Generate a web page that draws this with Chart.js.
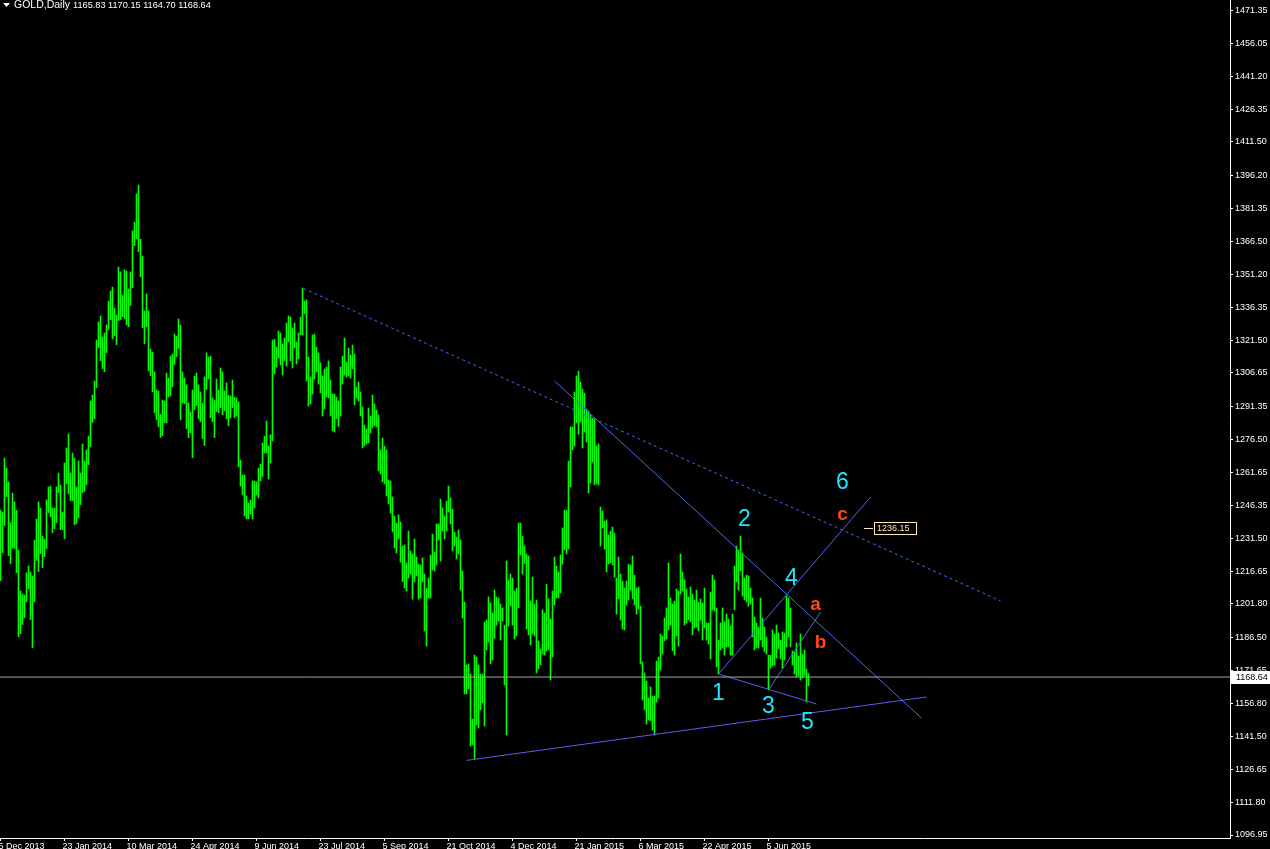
<!DOCTYPE html>
<html>
<head>
<meta charset="utf-8">
<script src="https://cdn.jsdelivr.net/npm/chart.js@4.4.0/dist/chart.umd.min.js"></script>
<style>
  html, body { margin: 0; padding: 0; background: #000; overflow: hidden; }
  #ChartGold { display: block; }
</style>
</head>
<body>
<canvas id="ChartGold" width="1270" height="849"></canvas>
<script>
// GOLD daily bars, high / low per bar (bar 0 = 5 Dec 2013)
const highs = [
  1244.4, 1243.5, 1268.0, 1263.5, 1257.1, 1238.7, 1252.1, 1248.1, 1244.4, 1226.3,
  1207.7, 1206.3, 1205.9, 1215.9, 1219.0, 1216.3, 1214.5, 1230.8, 1240.3, 1248.1,
  1245.3, 1232.6, 1231.3, 1249.0, 1254.9, 1255.3, 1245.3, 1245.3, 1254.9, 1261.2,
  1255.8, 1243.5, 1265.8, 1272.6, 1278.9, 1261.2, 1270.3, 1268.0, 1254.9, 1266.7,
  1261.2, 1274.4, 1266.7, 1271.7, 1278.0, 1293.9, 1296.6, 1303.0, 1321.6, 1329.8,
  1332.5, 1323.0, 1324.8, 1328.4, 1339.3, 1343.8, 1345.6, 1336.1, 1332.9, 1354.7,
  1352.5, 1342.0, 1353.4, 1352.9, 1344.7, 1352.5, 1371.1, 1375.1, 1387.9, 1391.9,
  1367.4, 1359.7, 1334.8, 1342.5, 1334.8, 1317.5, 1316.1, 1307.1, 1298.9, 1298.4,
  1288.0, 1294.4, 1293.9, 1306.6, 1304.3, 1314.3, 1315.2, 1324.3, 1323.4, 1331.1,
  1328.4, 1307.1, 1304.3, 1301.2, 1293.0, 1288.9, 1298.9, 1305.2, 1306.6, 1301.2,
  1298.0, 1293.0, 1304.8, 1315.7, 1313.9, 1314.3, 1295.3, 1294.4, 1303.9, 1298.9,
  1308.9, 1307.1, 1298.5, 1302.1, 1296.5, 1296.2, 1303.4, 1295.6, 1295.3, 1293.5,
  1267.1, 1260.3, 1260.3, 1250.8, 1247.6, 1249.0, 1257.6, 1257.6, 1257.2, 1263.5,
  1265.3, 1274.9, 1278.0, 1284.8, 1273.5, 1278.5, 1321.6, 1322.0, 1318.4, 1325.7,
  1324.8, 1319.8, 1322.5, 1329.3, 1332.5, 1332.0, 1327.0, 1329.3, 1320.7, 1324.8,
  1332.0, 1345.2, 1339.3, 1339.8, 1313.9, 1304.8, 1323.9, 1324.3, 1318.4, 1315.7,
  1311.2, 1305.3, 1308.4, 1309.3, 1312.1, 1303.4, 1297.1, 1297.1, 1295.7, 1293.9,
  1309.3, 1314.3, 1322.5, 1311.6, 1318.0, 1314.8, 1319.3, 1315.2, 1300.3, 1302.5,
  1298.0, 1291.2, 1283.0, 1281.2, 1290.7, 1287.1, 1296.6, 1292.6, 1289.8, 1287.6,
  1271.7, 1277.1, 1273.5, 1271.7, 1258.1, 1257.6, 1250.4, 1241.7, 1238.5, 1242.2,
  1239.0, 1228.1, 1228.6, 1220.4, 1234.9, 1225.8, 1224.5, 1231.3, 1223.1, 1219.9,
  1219.5, 1222.7, 1215.4, 1209.0, 1213.6, 1224.0, 1233.5, 1225.4, 1238.1, 1238.1,
  1249.4, 1245.4, 1241.7, 1248.5, 1255.3, 1249.9, 1244.9, 1234.4, 1232.2, 1235.4,
  1230.8, 1216.8, 1202.7, 1174.1, 1174.6, 1170.0, 1149.6, 1178.6, 1177.7, 1174.1,
  1170.0, 1170.0, 1193.6, 1194.5, 1205.0, 1202.3, 1197.7, 1208.1, 1205.0, 1204.5,
  1201.8, 1200.0, 1192.2, 1221.3, 1212.7, 1215.4, 1213.6, 1207.7, 1209.0, 1238.5,
  1238.5, 1232.6, 1228.1, 1224.5, 1223.6, 1203.2, 1214.0, 1201.8, 1203.6, 1185.0,
  1181.4, 1199.1, 1197.7, 1210.8, 1204.1, 1195.0, 1207.7, 1223.1, 1219.0, 1216.3,
  1224.0, 1236.3, 1244.4, 1244.4, 1266.7, 1282.1, 1282.1, 1298.0, 1305.3, 1307.5,
  1302.5, 1299.4, 1297.5, 1290.3, 1289.4, 1287.6, 1286.2, 1285.7, 1273.5, 1274.4,
  1245.8, 1244.0, 1239.4, 1240.0, 1233.1, 1234.9, 1236.7, 1234.0, 1213.6, 1223.1,
  1215.4, 1212.2, 1209.0, 1212.2, 1219.9, 1219.5, 1223.6, 1214.9, 1209.0, 1209.5,
  1200.9, 1175.5, 1170.5, 1166.8, 1159.1, 1164.1, 1160.0, 1160.0, 1175.9, 1177.7,
  1188.2, 1187.3, 1195.4, 1200.0, 1220.4, 1204.5, 1201.8, 1203.1, 1208.6, 1207.7,
  1224.5, 1216.3, 1212.7, 1208.6, 1205.0, 1209.5, 1206.3, 1203.6, 1208.1, 1202.7,
  1204.1, 1202.2, 1209.0, 1193.2, 1193.2, 1207.2, 1214.9, 1212.7, 1200.0, 1185.4,
  1193.2, 1200.0, 1193.6, 1197.2, 1195.0, 1191.8, 1197.2, 1219.0, 1228.1, 1226.3,
  1232.6, 1224.9, 1213.6, 1214.9, 1214.5, 1209.0, 1204.5, 1195.9, 1193.2, 1191.3,
  1204.5, 1195.4, 1191.3, 1186.8, 1178.6, 1178.6, 1190.0, 1188.2, 1192.2, 1188.6,
  1185.4, 1189.1, 1188.6, 1205.4, 1204.5, 1200.0, 1180.5, 1180.0, 1184.1, 1178.2,
  1188.2, 1179.1, 1180.9, 1172.3, 1170.15
];
const lows = [
  1212.4, 1225.1, 1237.3, 1250.5, 1223.7, 1220.1, 1227.2, 1226.9, 1216.0, 1186.9,
  1188.3, 1192.4, 1195.6, 1202.8, 1208.7, 1194.7, 1182.0, 1202.8, 1221.5, 1216.5,
  1224.6, 1218.3, 1223.3, 1226.9, 1243.2, 1241.4, 1234.1, 1236.0, 1238.7, 1252.3,
  1235.5, 1235.5, 1231.4, 1256.4, 1251.8, 1248.7, 1248.7, 1237.8, 1238.2, 1240.9,
  1246.9, 1252.3, 1252.8, 1255.9, 1265.0, 1273.2, 1284.1, 1285.9, 1300.0, 1318.1,
  1312.2, 1308.6, 1307.2, 1315.8, 1326.3, 1330.8, 1322.2, 1323.6, 1319.5, 1330.4,
  1330.8, 1332.2, 1331.3, 1328.5, 1327.6, 1337.2, 1345.3, 1364.4, 1367.6, 1361.7,
  1350.3, 1327.2, 1319.9, 1327.6, 1307.7, 1305.4, 1298.1, 1288.6, 1285.4, 1282.2,
  1277.4, 1278.2, 1284.1, 1284.1, 1295.6, 1296.3, 1300.4, 1310.4, 1314.0, 1317.7,
  1285.4, 1293.1, 1292.7, 1281.3, 1277.3, 1279.5, 1268.2, 1290.0, 1291.8, 1285.9,
  1284.6, 1276.8, 1273.6, 1299.1, 1304.0, 1286.3, 1284.5, 1277.3, 1289.1, 1288.6,
  1290.9, 1287.7, 1289.5, 1285.9, 1282.7, 1286.3, 1290.9, 1286.3, 1287.0, 1264.1,
  1255.3, 1251.3, 1241.7, 1240.4, 1240.4, 1242.6, 1240.4, 1245.4, 1251.3, 1249.9,
  1257.6, 1259.6, 1270.3, 1270.3, 1258.5, 1265.8, 1275.8, 1306.2, 1309.3, 1313.4,
  1310.2, 1305.7, 1312.1, 1309.8, 1320.7, 1312.1, 1308.9, 1318.0, 1310.7, 1313.0,
  1323.9, 1323.9, 1333.4, 1303.0, 1291.6, 1292.6, 1297.1, 1303.9, 1307.1, 1301.6,
  1297.5, 1287.1, 1290.3, 1295.7, 1295.3, 1287.1, 1280.3, 1279.8, 1285.9, 1282.3,
  1287.1, 1301.6, 1305.7, 1304.8, 1305.3, 1304.3, 1308.4, 1292.1, 1295.3, 1293.9,
  1287.1, 1272.6, 1273.5, 1274.4, 1274.9, 1279.4, 1281.7, 1282.6, 1282.1, 1262.2,
  1260.8, 1257.2, 1256.3, 1250.8, 1247.2, 1243.1, 1234.5, 1227.2, 1224.9, 1231.3,
  1220.8, 1212.0, 1209.0, 1207.7, 1213.6, 1215.4, 1204.0, 1211.8, 1214.5, 1204.0,
  1204.5, 1211.8, 1189.5, 1182.7, 1204.5, 1204.5, 1217.2, 1216.8, 1219.5, 1230.8,
  1221.3, 1234.9, 1231.3, 1234.9, 1243.5, 1238.1, 1225.8, 1228.1, 1222.2, 1224.5,
  1208.1, 1195.4, 1161.0, 1161.0, 1163.2, 1137.3, 1137.8, 1131.4, 1146.9, 1145.5,
  1153.7, 1156.9, 1146.4, 1180.9, 1184.5, 1174.6, 1176.4, 1186.3, 1192.2, 1194.0,
  1185.4, 1194.1, 1165.0, 1142.3, 1191.8, 1200.9, 1192.2, 1185.9, 1187.3, 1200.0,
  1224.0, 1215.4, 1220.0, 1190.4, 1187.7, 1183.2, 1188.2, 1187.3, 1170.5, 1172.3,
  1174.1, 1179.1, 1178.6, 1180.4, 1180.9, 1167.3, 1177.7, 1201.3, 1204.5, 1204.5,
  1206.8, 1219.9, 1226.3, 1224.5, 1226.7, 1254.9, 1271.7, 1273.5, 1283.9, 1278.9,
  1284.4, 1272.6, 1279.8, 1275.3, 1252.2, 1256.7, 1266.2, 1255.8, 1256.3, 1255.8,
  1228.1, 1236.3, 1226.7, 1216.3, 1220.0, 1220.4, 1219.5, 1214.0, 1197.2, 1204.1,
  1194.5, 1190.4, 1190.0, 1201.3, 1203.6, 1208.1, 1204.1, 1201.3, 1197.2, 1199.5,
  1174.6, 1158.2, 1153.7, 1147.3, 1149.1, 1148.7, 1144.6, 1142.3, 1157.3, 1159.1,
  1171.8, 1179.1, 1185.0, 1185.9, 1190.0, 1192.2, 1180.5, 1178.6, 1187.3, 1182.7,
  1206.3, 1207.7, 1192.2, 1193.2, 1194.5, 1193.6, 1187.7, 1190.9, 1191.3, 1189.5,
  1194.5, 1185.4, 1190.9, 1185.4, 1183.6, 1176.8, 1199.1, 1198.6, 1173.2, 1170.0,
  1180.9, 1181.8, 1178.6, 1182.3, 1182.3, 1178.6, 1178.6, 1199.1, 1211.8, 1208.1,
  1216.8, 1205.4, 1203.6, 1202.7, 1200.9, 1201.8, 1186.8, 1180.9, 1181.8, 1181.8,
  1185.4, 1182.3, 1180.0, 1179.1, 1162.8, 1172.7, 1173.6, 1174.1, 1177.3, 1181.4,
  1176.8, 1172.7, 1176.4, 1182.3, 1186.8, 1182.3, 1174.1, 1170.0, 1168.7, 1169.1,
  1167.3, 1168.2, 1169.1, 1157.3, 1164.70
];
const lastBar = { open: 1165.83, high: 1170.15, low: 1164.70, close: 1168.64 };

const dateLabels = ["5 Dec 2013", "23 Jan 2014", "10 Mar 2014", "24 Apr 2014", "9 Jun 2014",
  "23 Jul 2014", "5 Sep 2014", "21 Oct 2014", "4 Dec 2014", "21 Jan 2015",
  "6 Mar 2015", "22 Apr 2015", "5 Jun 2015"];
const dateBars = [0, 32, 64, 96, 128, 160, 192, 224, 256, 288, 320, 352, 384];

const priceTicks = [1471.35, 1456.05, 1441.20, 1426.35, 1411.50, 1396.20, 1381.35, 1366.50,
  1351.20, 1336.35, 1321.50, 1306.65, 1291.35, 1276.50, 1261.65, 1246.35, 1231.50, 1216.65,
  1201.80, 1186.50, 1171.65, 1156.80, 1141.50, 1126.65, 1111.80, 1096.95];

// trend lines [bar, price] -> [bar, price]
const resistLine = [[151.5, 1345.0], [500, 1203.2]];
const fallLine = [[277, 1303.0], [460.5, 1150.0]];
const supportLine = [[233, 1130.8], [463, 1159.6]];
const riseLine = [[359, 1170.0], [435, 1250.3]];
const wedgeLine = [[359, 1170.0], [408, 1156.4]];
const abLine = [[384, 1162.8], [410, 1198.0]];

// wave marks
const waveNums = [["1", 359, 1161.6], ["2", 372, 1240.4], ["3", 384, 1155.6],
  ["4", 395.5, 1213.8], ["5", 403.5, 1148.5], ["6", 421, 1257.1]];
const waveLetters = [["a", 407.5, 1201.3], ["b", 410, 1184.4], ["c", 421, 1242.4]];
const markPrice = 1236.15;

const fontName = "'Liberation Sans', Arial, sans-serif";

const bars = highs.map((h, i) => ({ x: i, y: [lows[i], h] }));
const seg = (pts) => pts.map(p => ({ x: p[0], y: p[1] }));

const mtDecor = {
  id: "mtDecor",
  afterDraw(chart) {
    const ctx = chart.ctx;
    const xs = chart.scales.x, ys = chart.scales.y;
    ctx.save();
    // header
    ctx.fillStyle = "#fff";
    ctx.beginPath();
    ctx.moveTo(3, 3); ctx.lineTo(10, 3); ctx.lineTo(6.5, 7); ctx.closePath(); ctx.fill();
    ctx.textBaseline = "middle";
    ctx.textAlign = "left";
    ctx.font = "10.5px " + fontName;
    ctx.fillText("GOLD,Daily", 14, 5);
    ctx.font = "9.2px " + fontName;
    ctx.fillText([lastBar.open, lastBar.high, lastBar.low, lastBar.close].map(v => v.toFixed(2)).join(" "), 73, 5);

    // wave numbers
    ctx.textAlign = "center";
    ctx.textBaseline = "middle";
    ctx.fillStyle = "#1ee6ff";
    ctx.font = "23px " + fontName;
    waveNums.forEach(w => ctx.fillText(w[0], xs.getPixelForValue(w[1]), ys.getPixelForValue(w[2]) + 1));
    ctx.fillStyle = "#ff4a12";
    ctx.font = "bold 19px " + fontName;
    waveLetters.forEach(w => ctx.fillText(w[0], xs.getPixelForValue(w[1]), ys.getPixelForValue(w[2])));

    // price label on the resistance line
    const py = Math.round(ys.getPixelForValue(markPrice)) + 0.5;
    const px = Math.round(xs.getPixelForValue(431.5));
    ctx.strokeStyle = "#ffe6b8";
    ctx.lineWidth = 1;
    ctx.beginPath(); ctx.moveTo(px, py); ctx.lineTo(px + 9, py); ctx.stroke();
    ctx.strokeRect(px + 10.5, py - 6, 42, 12);
    ctx.fillStyle = "#ffe6b8";
    ctx.font = "9px " + fontName;
    ctx.textAlign = "left";
    ctx.fillText(markPrice.toFixed(2), px + 13, py + 0.5);

    // bid box
    const by = ys.getPixelForValue(lastBar.close);
    ctx.fillStyle = "#fff";
    ctx.fillRect(chart.chartArea.right + 1, Math.round(by) - 6, 40, 13);
    ctx.fillStyle = "#000";
    ctx.fillText(lastBar.close.toFixed(2), chart.chartArea.right + 6, by + 0.5);
    ctx.restore();
  }
};

const lineDs = (pts, color, dash) => ({
  type: "line",
  data: seg(pts),
  borderColor: color,
  borderWidth: 1,
  borderDash: dash || [],
  pointRadius: 0,
  fill: false,
  order: 1,
});

new Chart(document.getElementById("ChartGold"), {
  type: "bar",
  data: {
    datasets: [
      {
        type: "bar",
        data: bars,
        backgroundColor: "#00ff00",
        borderWidth: 0,
        barThickness: 1,
        order: 5,
      },
      lineDs([[-0.25, lastBar.close], [614.75, lastBar.close]], "#a8a8a8"),
      lineDs(resistLine, "#3f66ff", [3, 3]),
      lineDs(fallLine, "#4a6af0"),
      lineDs(supportLine, "#6658e8"),
      lineDs(riseLine, "#4a6af0"),
      lineDs(wedgeLine, "#5060e8"),
      lineDs(abLine, "#4a6af0"),
    ],
  },
  options: {
    responsive: false,
    animation: false,
    devicePixelRatio: 1,
    layout: { padding: 0 },
    plugins: { legend: { display: false }, tooltip: { enabled: false }, title: { display: false } },
    scales: {
      x: {
        type: "linear",
        offset: false,
        min: -0.25,
        max: 614.75,
        afterBuildTicks: (s) => { s.ticks = dateBars.map(v => ({ value: v })); },
        afterFit: (s) => { s.height = 11; s.paddingLeft = 0; s.paddingRight = 0; },
        ticks: {
          color: "#fff",
          font: { family: fontName, size: 9 },
          align: "start",
          padding: 0,
          labelOffset: -2,
          maxRotation: 0,
          autoSkip: false,
          callback: (v) => dateLabels[dateBars.indexOf(v)],
        },
        grid: { offset: false, drawOnChartArea: false, drawTicks: true, tickLength: 3, color: "#fff" },
        border: { color: "#fff", width: 1 },
      },
      y: {
        position: "right",
        min: 1095.59,
        max: 1475.9,
        afterBuildTicks: (s) => { s.ticks = priceTicks.map(v => ({ value: v })); },
        afterFit: (s) => { s.width = 40; s.paddingTop = 0; s.paddingBottom = 0; },
        ticks: {
          color: "#fff",
          font: { family: fontName, size: 9 },
          padding: 2,
          autoSkip: false,
          callback: (v) => Number(v).toFixed(2),
        },
        grid: { drawOnChartArea: false, drawTicks: true, tickLength: 3, color: "#fff" },
        border: { color: "#fff", width: 1 },
      },
    },
  },
  plugins: [mtDecor],
});
</script>
</body>
</html>
